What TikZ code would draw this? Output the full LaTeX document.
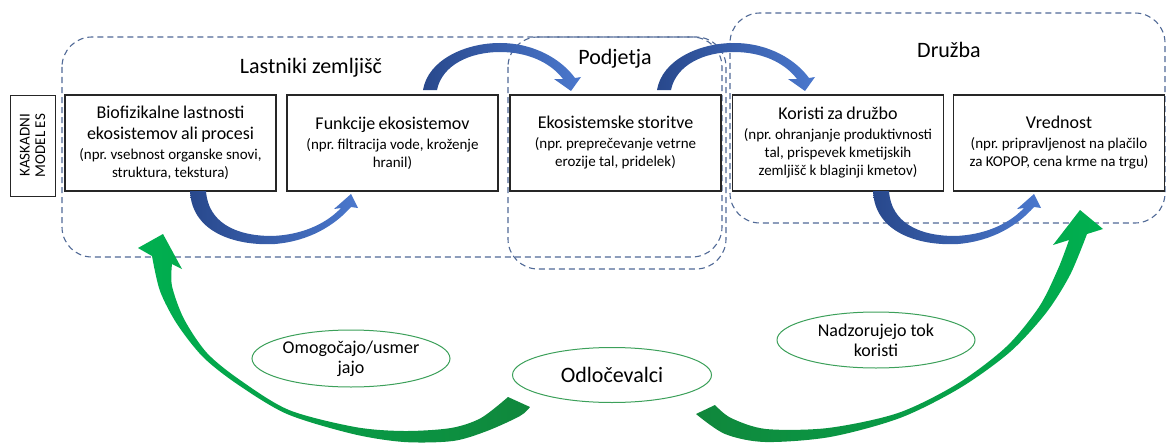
\documentclass[tikz,border=0pt]{standalone}
\usepackage{fontspec}
\setmainfont{Carlito}
\usetikzlibrary{shapes.geometric}

\definecolor{regionline}{RGB}{80,105,150}
\definecolor{arcdark}{RGB}{40,72,140}
\definecolor{arclight}{RGB}{75,120,205}
\definecolor{leafdark}{RGB}{16,135,60}
\definecolor{leaflight}{RGB}{0,176,80}
\definecolor{ovalline}{RGB}{60,160,90}

\newcommand\mainsize{\fontsize{18}{21}\selectfont}
\newcommand\notesize{\fontsize{15}{18}\selectfont}

\tikzset{
  region/.style={draw=regionline, line width=1.1pt, dash pattern=on 6pt off 4pt, rounded corners=30pt},
  stage/.style={draw=black!85, line width=1.3pt, fill=white, minimum width=211pt, minimum height=96pt,
    inner sep=2pt, text width=207pt, align=center},
  grouptitle/.style={font=\fontsize{22}{26}\selectfont, inner sep=0pt, anchor=base},
  oval/.style={ellipse, draw=ovalline, line width=1pt, fill=white, align=center, inner sep=0pt},
  % curved block arrow passing below two neighbouring stages
  pics/underarc/.style={code={
    \shade[left color=arcdark, right color=arclight]
      (0,0) .. controls (2,44) and (50,55) .. (85,53) .. controls (120,50) and (145,34) .. (161,16)
      -- (168,17) -- (161,3) -- (144,18) -- (151,17)
      .. controls (135,34) and (110,44) .. (82,45) .. controls (45,45) and (18,31) .. (16,0) -- cycle;
  }},
  % curved block arrow passing above two neighbouring stages
  pics/overarc/.style={code={
    \shade[left color=arcdark, right color=arclight]
      (0,0) .. controls (5,-30) and (42,-47) .. (77,-47) .. controls (112,-47) and (139,-30) .. (152,-12)
      -- (158,-13) -- (148,1) -- (131,-11) -- (140,-11)
      .. controls (127,-28) and (104,-38) .. (77,-38) .. controls (47,-38) and (19,-25) .. (14,0) -- cycle;
  }}
}

\begin{document}
\frenchspacing
\begin{tikzpicture}[x=1pt,y=-1pt]
\useasboundingbox (0,0) rectangle (1167,444);

% actor groups
\draw[region] (62,37) rectangle (722,257);
\draw[region] (508,37) rectangle (726,269);
\draw[region] (730,13) rectangle (1165,223);

\node[grouptitle] (owners) at (311,74) {Lastniki zemljišč};
\node[grouptitle] (firms) at (615,65) {Podjetja};
\node[grouptitle] (society) at (949,58) {Družba};

% cascade label
\node[draw=black!85, line width=1pt, rotate=90, minimum width=101pt, minimum height=45pt,
      align=center, font=\fontsize{15}{15.5}\selectfont, inner sep=0pt] (cascade) at (32.5,145.5)
      {KASKADNI\\MODEL ES};

% cascade stages
\node[stage] (s1) at (170.5,143)
  {{\mainsize Biofizikalne lastnosti\\ekosistemov ali procesi\par}\vspace{2pt}
   {\notesize (npr. vsebnost organske snovi,\\struktura, tekstura)\par}};
\node[stage] (s2) at (392.5,143)
  {{\mainsize Funkcije ekosistemov\par}\vspace{2pt}
   {\notesize (npr. filtracija vode, kroženje\\hranil)\par}};
\node[stage] (s3) at (615.5,143)
  {{\mainsize Ekosistemske storitve\par}\vspace{2pt}
   {\notesize (npr. preprečevanje vetrne\\erozije tal, pridelek)\par}};
\node[stage] (s4) at (838,143)
  {{\mainsize Koristi za družbo\par}\vspace{2pt}
   {\notesize (npr. ohranjanje produktivnosti\\tal, prispevek kmetijskih\\zemljišč k blaginji kmetov)\par}};
\node[stage] (s5) at (1059,143)
  {{\mainsize Vrednost\par}\vspace{2pt}
   {\notesize (npr. pripravljenost na plačilo\\za KOPOP, cena krme na trgu)\par}};

% flow between stages
\pic at (190,191) {underarc};
\pic at (423,90) {overarc};
\pic at (657,90) {overarc};
\pic at (873,191) {underarc};

% influence of decision makers
\shade[left color=leaflight, right color=leafdark]
  (508,397) -- (530,407)
  -- plot[smooth] coordinates {(530,407) (520,416) (487,431) (453,441) (404,442) (353,434) (287,414) (237,384) (203,357) (177,324) (160,291) (152,256)}
  -- (138,248) -- (163,234) -- (182,269) -- (172,264)
  -- plot[smooth] coordinates {(172,264) (172,286) (184,319) (207,353) (240,380) (289,410) (355,427) (404,431) (451,428) (481,418) (508,397)}
  -- cycle;
\shade[left color=leafdark, right color=leaflight]
  (715,405) -- (696,414)
  -- plot[smooth] coordinates {(696,414) (725,434) (765,442) (830,437) (900,418) (960,388) (1010,352) (1046,313) (1070,275) (1087,234)}
  -- (1103,229) -- (1080,210) -- (1053,245) -- (1069,240)
  -- plot[smooth] coordinates {(1069,240) (1058,269) (1039,307) (1006,347) (957,384) (898,413) (828,428) (766,429) (731,418) (715,405)}
  -- cycle;

\node[oval, minimum width=198pt, minimum height=57pt, font=\fontsize{18}{20}\selectfont] (enable) at (351,358.5)
  {Omogočajo/usmer\\jajo};
\node[oval, minimum width=199pt, minimum height=55pt, font=\fontsize{22}{26}\selectfont] (deciders) at (612,375)
  {Odločevalci};
\node[oval, minimum width=198pt, minimum height=56pt, font=\fontsize{18}{20}\selectfont] (control) at (876,340)
  {Nadzorujejo tok\\koristi};
\end{tikzpicture}
\end{document}
